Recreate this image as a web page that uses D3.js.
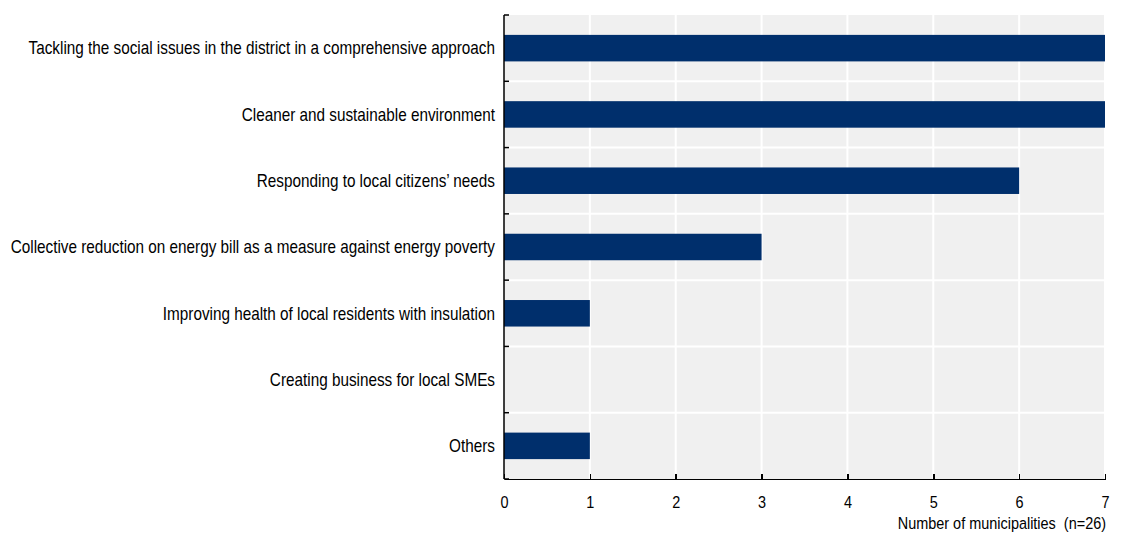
<!DOCTYPE html>
<meta charset="utf-8">
<style>
body { margin: 0; background: #fff; }
text { font-family: "Liberation Sans", Arial, sans-serif; fill: #000; }
.axis path, .axis line { stroke: #000; stroke-width: 1.5; shape-rendering: crispEdges; }
</style>
<body>
<script src="https://d3js.org/d3.v7.min.js"></script>
<script>
var categories = [
  "Tackling the social issues in the district in a comprehensive approach",
  "Cleaner and sustainable environment",
  "Responding to local citizens\u2019 needs",
  "Collective reduction on energy bill as a measure against energy poverty",
  "Improving health of local residents with insulation",
  "Creating business for local SMEs",
  "Others"
];
var values = [7, 7, 6, 3, 1, 0, 1];
var xTicks = [0, 1, 2, 3, 4, 5, 6, 7];
var xTitle = "Number of municipalities\u00a0\u00a0(n=26)";

// no narrow font available: squeeze regular sans horizontally
var squeeze = 0.85;

var width = 1124, height = 539;
var margin = {top: 15, right: 19, bottom: 60, left: 504};
var w = width - margin.left - margin.right,
    h = height - margin.top - margin.bottom;

var svg = d3.select("body").append("svg")
    .attr("width", width)
    .attr("height", height);

var g = svg.append("g")
    .attr("transform", "translate(" + margin.left + "," + margin.top + ")");

var x = d3.scaleLinear().domain([0, 7]).range([0, w]);
var y = d3.scaleBand().domain(categories).range([0, h]);

// background
g.append("rect")
    .attr("width", w)
    .attr("height", h)
    .attr("fill", "#f0f0f0");

// grid
g.selectAll(".vgrid")
    .data(xTicks.slice(1))
  .enter().append("line")
    .attr("x1", function(d) { return x(d); })
    .attr("x2", function(d) { return x(d); })
    .attr("y1", 0)
    .attr("y2", h)
    .attr("stroke", "#fff")
    .attr("stroke-width", 2);

g.selectAll(".hgrid")
    .data(categories.slice(1))
  .enter().append("line")
    .attr("x1", 0)
    .attr("x2", w)
    .attr("y1", function(d) { return y(d); })
    .attr("y2", function(d) { return y(d); })
    .attr("stroke", "#fff")
    .attr("stroke-width", 2);

// bars
var barH = y.bandwidth() * 0.4;
g.selectAll(".bar")
    .data(values)
  .enter().append("rect")
    .attr("x", 0)
    .attr("y", function(d, i) { return y(categories[i]) + (y.bandwidth() - barH) / 2; })
    .attr("width", function(d) { return x(d); })
    .attr("height", barH)
    .attr("fill", "#002f6c");

// category labels
g.selectAll(".cat")
    .data(categories)
  .enter().append("text")
    .attr("transform", function(d) {
      return "translate(-9," + (y(d) + y.bandwidth() / 2) + ") scale(" + squeeze + ",1)";
    })
    .attr("dy", "0.35em")
    .attr("text-anchor", "end")
    .style("font-size", "18px")
    .text(function(d) { return d; });

// left axis with ticks at band boundaries
var bounds = categories.map(function(d) { return y(d); }).concat([h]);
g.append("line")
    .attr("x1", 0).attr("x2", 0)
    .attr("y1", 0).attr("y2", h)
    .attr("stroke", "#000").attr("stroke-width", 1.5);
g.selectAll(".ytick")
    .data(bounds)
  .enter().append("line")
    .attr("x1", 0).attr("x2", 5)
    .attr("y1", function(d) { return d; })
    .attr("y2", function(d) { return d; })
    .attr("stroke", "#000").attr("stroke-width", 1.5);

// bottom axis
var xAxis = d3.axisBottom(x)
    .tickValues(xTicks)
    .tickFormat(d3.format("d"))
    .tickSize(-5)
    .tickPadding(17)
    .tickSizeOuter(0);

var ax = g.append("g")
    .attr("class", "axis")
    .attr("transform", "translate(0," + h + ")")
    .call(xAxis);
ax.selectAll("text")
    .style("font-size", "17px")
    .attr("fill", "#000")
    .attr("transform", "scale(" + squeeze + ",1)");

svg.append("text")
    .attr("transform", "translate(" + (margin.left + w + 1) + ",529) scale(" + squeeze + ",1)")
    .attr("text-anchor", "end")
    .style("font-size", "17px")
    .text(xTitle);
</script>
</body>
